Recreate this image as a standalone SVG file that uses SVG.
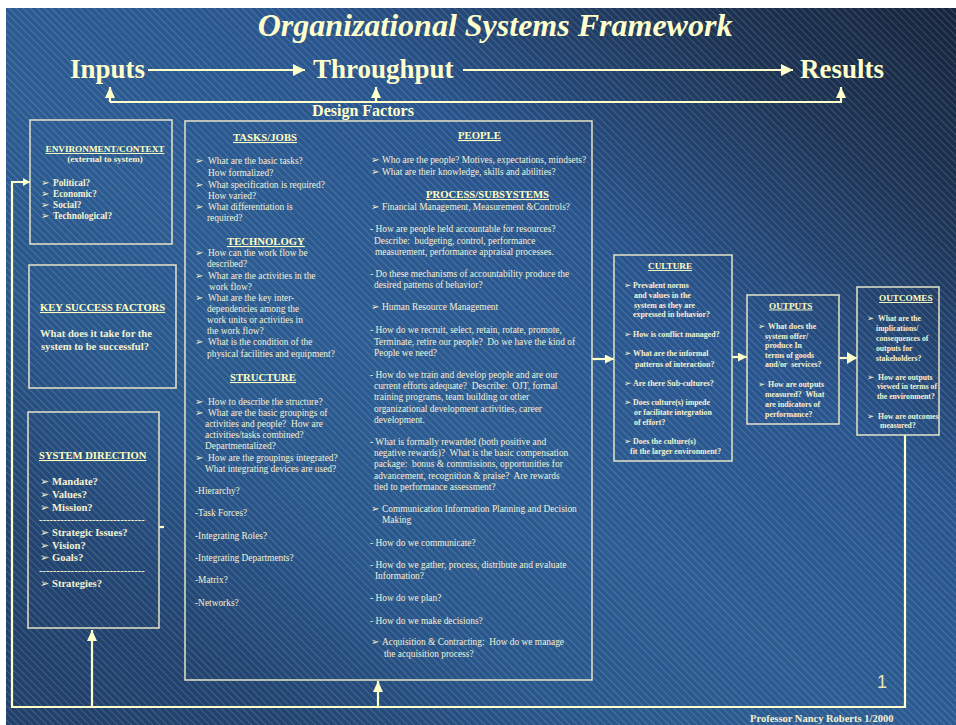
<svg xmlns="http://www.w3.org/2000/svg" width="956" height="725" viewBox="0 0 956 725">
<defs>
<linearGradient id="bg" x1="1" y1="0" x2="0" y2="1">
<stop offset="0" stop-color="#16253d"/>
<stop offset="0.15" stop-color="#1d3455"/>
<stop offset="0.35" stop-color="#29558e"/>
<stop offset="0.55" stop-color="#2c5c92"/>
<stop offset="0.7" stop-color="#29578c"/>
<stop offset="0.85" stop-color="#224470"/>
<stop offset="1" stop-color="#21406a"/>
</linearGradient>
<pattern id="hatch" width="5" height="5" patternUnits="userSpaceOnUse" patternTransform="rotate(-45)">
<line x1="0.5" y1="0" x2="0.5" y2="5" stroke="#ffffff" stroke-opacity="0.2" stroke-width="0.8"/>
</pattern>
<marker id="big" viewBox="0 0 12 12" refX="12" refY="6" markerWidth="12" markerHeight="12" markerUnits="userSpaceOnUse" orient="auto"><path d="M0,0 L12,6 L0,12 z" fill="#ffffcc"/></marker>
<marker id="mid" viewBox="0 0 11 10" refX="11" refY="5" markerWidth="11" markerHeight="10" markerUnits="userSpaceOnUse" orient="auto"><path d="M0,0 L11,5 L0,10 z" fill="#ffffcc"/></marker>
<marker id="wide" viewBox="0 0 10 12" refX="10" refY="6" markerWidth="10" markerHeight="12" markerUnits="userSpaceOnUse" orient="auto"><path d="M0,0 L10,6 L0,12 z" fill="#ffffcc"/></marker>
<marker id="sm" viewBox="0 0 9 9" refX="9" refY="4.5" markerWidth="9" markerHeight="9" markerUnits="userSpaceOnUse" orient="auto"><path d="M0,0 L9,4.5 L0,9 z" fill="#ffffcc"/></marker>
<marker id="xs" viewBox="0 0 7 8" refX="7" refY="4" markerWidth="7" markerHeight="8" markerUnits="userSpaceOnUse" orient="auto"><path d="M0,0 L7,4 L0,8 z" fill="#ffffcc"/></marker>
</defs>
<style>
text{font-family:"Liberation Serif","Times New Roman",serif;}
.title{font-size:32px;font-weight:bold;font-style:italic;fill:#ffffcc;}
.big{font-size:27px;font-weight:bold;fill:#ffffcc;}
.df{font-size:16px;font-weight:bold;fill:#ffffcc;}
.hd{font-weight:bold;fill:#ffffc0;text-decoration:underline;}
.h10{font-size:10.7px;}
.h9{font-size:9.2px;}
.lb{font-weight:bold;fill:#f4f2d2;}
.s10{font-size:10.6px;}
.s9{font-size:9.3px;}
.s8{font-size:7.9px;}
.s7{font-size:7.7px;}
.t{font-size:9.4px;fill:#f2f0d6;}
.p{white-space:pre;}
.bl{font-family:"DejaVu Sans",sans-serif;font-weight:bold;}
.b1{font-size:10px;}
.b2{font-size:11px;}
.b3{font-size:8.5px;}
.box{fill:none;stroke:#e4e4c8;stroke-width:1.5;}
.cn{fill:none;stroke:#ffffcc;stroke-width:2.2;}
.ft{font-size:10.5px;font-weight:bold;fill:#f4f2d2;}
.pg{font-family:"Liberation Sans",Arial,sans-serif;font-size:18px;fill:#e8e4b8;}
</style>
<rect x="0" y="0" width="956" height="725" fill="#ffffff"/>
<rect x="6" y="8" width="950" height="717" fill="url(#bg)"/>
<rect x="6" y="8" width="950" height="717" fill="url(#hatch)"/>

<g id="header">
<text class="title" x="495" y="36" text-anchor="middle">Organizational Systems Framework</text>
<text class="big" x="70" y="78">Inputs</text>
<text class="big" x="313" y="78">Throughput</text>
<text class="big" x="800" y="78">Results</text>
<text class="df" x="363" y="116" text-anchor="middle">Design Factors</text>
</g>

<g id="connectors">
<path class="cn" stroke-width="2.5" d="M148,70 H305" marker-end="url(#big)"/>
<path class="cn" stroke-width="2.5" d="M463,70 H793" marker-end="url(#big)"/>
<path class="cn" stroke-width="2.5" d="M110,102 H842"/>
<path class="cn" stroke-width="2.5" d="M110,102 V87" marker-end="url(#mid)"/>
<path class="cn" stroke-width="2.5" d="M376,102 V87" marker-end="url(#mid)"/>
<path class="cn" stroke-width="2.5" d="M841,102 V87" marker-end="url(#mid)"/>
<path class="cn" d="M905,435 V707 H12 V182 H30" marker-end="url(#xs)"/>
<path class="cn" d="M92,707 V630" marker-end="url(#mid)"/>
<path class="cn" d="M378,707 V681" marker-end="url(#mid)"/>
<path class="cn" d="M592,359 H614" marker-end="url(#sm)"/>
<path class="cn" d="M732,357 H747" marker-end="url(#sm)"/>
<path class="cn" d="M839,358 H857" marker-end="url(#wide)"/>
<path class="cn" d="M159,527 H164"/>
</g>

<g id="environment">
<rect class="box" x="30" y="120" width="142" height="124"/>
<text class="hd h9" x="105" y="152" text-anchor="middle">ENVIRONMENT/CONTEXT</text>
<text class="lb" font-size="9px" x="105" y="162" text-anchor="middle">(external to system)</text>
<text class="lb s9" y="186"><tspan class="bl b1" x="41">➢</tspan><tspan x="53">Political?</tspan></text>
<text class="lb s9" y="197"><tspan class="bl b1" x="41">➢</tspan><tspan x="53">Economic?</tspan></text>
<text class="lb s9" y="208"><tspan class="bl b1" x="41">➢</tspan><tspan x="53">Social?</tspan></text>
<text class="lb s9" y="219"><tspan class="bl b1" x="41">➢</tspan><tspan x="53">Technological?</tspan></text>
</g>

<g id="key-success">
<rect class="box" x="29" y="265" width="147" height="123"/>
<text class="hd" font-size="10.6px" x="40" y="311">KEY SUCCESS FACTORS</text>
<text class="lb s10" x="40" y="337">What does it take for the</text>
<text class="lb s10" x="41" y="350">system to be successful?</text>
</g>

<g id="system-direction">
<rect class="box" x="28" y="412" width="131" height="216"/>
<text class="hd" font-size="10.6px" x="39" y="459">SYSTEM DIRECTION</text>
<text class="lb s10" y="485"><tspan class="bl b2" x="40">➢</tspan><tspan x="52">Mandate?</tspan></text>
<text class="lb s10" y="498"><tspan class="bl b2" x="40">➢</tspan><tspan x="52">Values?</tspan></text>
<text class="lb s10" y="510.5"><tspan class="bl b2" x="40">➢</tspan><tspan x="52">Mission?</tspan></text>
<text class="lb s10" x="39" y="523">------------------------------</text>
<text class="lb s10" y="536"><tspan class="bl b2" x="40">➢</tspan><tspan x="52">Strategic Issues?</tspan></text>
<text class="lb s10" y="548.5"><tspan class="bl b2" x="40">➢</tspan><tspan x="52">Vision?</tspan></text>
<text class="lb s10" y="561"><tspan class="bl b2" x="40">➢</tspan><tspan x="52">Goals?</tspan></text>
<text class="lb s10" x="39" y="574">------------------------------</text>
<text class="lb s10" y="587"><tspan class="bl b2" x="40">➢</tspan><tspan x="52">Strategies?</tspan></text>
</g>

<g id="design-factors">
<rect class="box" stroke-width="1.2" x="185" y="121" width="407" height="559"/>
<text class="hd h10" x="233" y="141">TASKS/JOBS</text>
<text class="t" y="164"><tspan class="bl b1" x="195">➢</tspan><tspan x="208">What are the basic tasks?</tspan></text>
<text class="t" x="208" y="176">How formalized?</text>
<text class="t" y="188"><tspan class="bl b1" x="195">➢</tspan><tspan x="208">What specification is required?</tspan></text>
<text class="t" x="208" y="199">How varied?</text>
<text class="t" y="210"><tspan class="bl b1" x="195">➢</tspan><tspan x="208">What differentiation is</tspan></text>
<text class="t" x="207" y="221">required?</text>
<text class="hd h10" x="227" y="245">TECHNOLOGY</text>
<text class="t" y="256"><tspan class="bl b1" x="195">➢</tspan><tspan x="208">How can the work flow be</tspan></text>
<text class="t" x="207" y="267">described?</text>
<text class="t" y="279"><tspan class="bl b1" x="195">➢</tspan><tspan x="208">What are the activities in the</tspan></text>
<text class="t" x="209" y="290">work flow?</text>
<text class="t" y="301"><tspan class="bl b1" x="195">➢</tspan><tspan x="208">What are the key inter-</tspan></text>
<text class="t" x="207" y="312">dependencies among the</text>
<text class="t" x="207" y="323">work units or activities in</text>
<text class="t" x="207" y="334">the work flow?</text>
<text class="t" y="345"><tspan class="bl b1" x="195">➢</tspan><tspan x="208">What is the condition of the</tspan></text>
<text class="t" x="207" y="357">physical facilities and equipment?</text>
<text class="hd h10" x="230" y="381">STRUCTURE</text>
<text class="t" y="405"><tspan class="bl b1" x="195">➢</tspan><tspan x="208">How to describe the structure?</tspan></text>
<text class="t" y="416"><tspan class="bl b1" x="195">➢</tspan><tspan x="208">What are the basic groupings of</tspan></text>
<text class="t p" x="205" y="427">activities and people?  How are</text>
<text class="t" x="205" y="438">activities/tasks combined?</text>
<text class="t" x="205" y="449">Departmentalized?</text>
<text class="t" y="461"><tspan class="bl b1" x="195">➢</tspan><tspan x="208">How are the groupings integrated?</tspan></text>
<text class="t" x="205" y="472">What integrating devices are used?</text>
<text class="t" x="195" y="494">-Hierarchy?</text>
<text class="t" x="195" y="516">-Task Forces?</text>
<text class="t" x="195" y="539">-Integrating Roles?</text>
<text class="t" x="195" y="561">-Integrating Departments?</text>
<text class="t" x="195" y="583">-Matrix?</text>
<text class="t" x="195" y="606">-Networks?</text>

<text class="hd h10" x="458" y="139">PEOPLE</text>
<text class="t" y="163"><tspan class="bl b1" x="371">➢</tspan><tspan x="382">Who are the people? Motives, expectations, mindsets?</tspan></text>
<text class="t" y="174.5"><tspan class="bl b1" x="371">➢</tspan><tspan x="382">What are their knowledge, skills and abilities?</tspan></text>
<text class="hd h10" x="426" y="198">PROCESS/SUBSYSTEMS</text>
<text class="t" y="209.5"><tspan class="bl b1" x="371">➢</tspan><tspan x="382">Financial Management, Measurement &amp;Controls?</tspan></text>
<text class="t" x="370" y="232">- How are people held accountable for resources?</text>
<text class="t p" x="374" y="243.5">Describe:  budgeting, control, performance</text>
<text class="t" x="375" y="255">measurement, performance appraisal processes.</text>
<text class="t" x="370" y="277">- Do these mechanisms of accountability produce the</text>
<text class="t" x="374" y="288">desired patterns of behavior?</text>
<text class="t" y="310"><tspan class="bl b1" x="371">➢</tspan><tspan x="382">Human Resource Management</tspan></text>
<text class="t" x="370" y="333">- How do we recruit, select, retain, rotate, promote,</text>
<text class="t p" x="374" y="344.5">Terminate, retire our people?  Do we have the kind of</text>
<text class="t" x="374" y="355.5">People we need?</text>
<text class="t" x="370" y="378">- How do we train and develop people and are our</text>
<text class="t p" x="374" y="389">current efforts adequate?  Describe:  OJT, formal</text>
<text class="t" x="374" y="400">training programs, team building or other</text>
<text class="t" x="374" y="411.5">organizational development activities, career</text>
<text class="t" x="374" y="423">development.</text>
<text class="t" x="370" y="444.5">- What is formally rewarded (both positive and</text>
<text class="t p" x="374" y="456">negative rewards)?  What is the basic compensation</text>
<text class="t p" x="374" y="467">package:  bonus &amp; commissions, opportunities for</text>
<text class="t p" x="374" y="478.5">advancement, recognition &amp; praise?  Are rewards</text>
<text class="t" x="374" y="490">tied to performance assessment?</text>
<text class="t" y="511.5"><tspan class="bl b1" x="371">➢</tspan><tspan x="382">Communication Information Planning and Decision</tspan></text>
<text class="t" x="382" y="523">Making</text>
<text class="t" x="370" y="545.5">- How do we communicate?</text>
<text class="t" x="370" y="568">- How do we gather, process, distribute and evaluate</text>
<text class="t" x="375" y="578.5">Information?</text>
<text class="t" x="370" y="601">- How do we plan?</text>
<text class="t" x="370" y="624">- How do we make decisions?</text>
<text class="t p" y="645"><tspan class="bl b1" x="371">➢</tspan><tspan x="382">Acquisition &amp; Contracting:  How do we manage</tspan></text>
<text class="t" x="384" y="657">the acquisition process?</text>
</g>

<g id="culture">
<rect class="box" x="614" y="255" width="118" height="206"/>
<text class="hd h9" x="648" y="269">CULTURE</text>
<text class="lb s8" y="288"><tspan class="bl b3" x="624">➢</tspan><tspan x="633">Prevalent norms</tspan></text>
<text class="lb s8" x="634" y="298">and values in the</text>
<text class="lb s8" x="634" y="308">system as they are</text>
<text class="lb s8" x="633" y="317">expressed in behavior?</text>
<text class="lb s8" y="337"><tspan class="bl b3" x="624">➢</tspan><tspan x="633">How is conflict managed?</tspan></text>
<text class="lb s8" y="356"><tspan class="bl b3" x="624">➢</tspan><tspan x="633">What are the informal</tspan></text>
<text class="lb s8" x="635" y="367">patterns of interaction?</text>
<text class="lb s8" y="386"><tspan class="bl b3" x="624">➢</tspan><tspan x="633">Are there Sub-cultures?</tspan></text>
<text class="lb s8" y="404.5"><tspan class="bl b3" x="624">➢</tspan><tspan x="633">Does culture(s) impede</tspan></text>
<text class="lb s8" x="634" y="414.5">or facilitate integration</text>
<text class="lb s8" x="634" y="424.5">of effort?</text>
<text class="lb s8" y="443.5"><tspan class="bl b3" x="624">➢</tspan><tspan x="633">Does the culture(s)</tspan></text>
<text class="lb s8" x="630" y="453.5">fit the larger environment?</text>
</g>

<g id="outputs">
<rect class="box" x="747" y="295" width="92" height="129"/>
<text class="hd h9" x="769" y="308.5">OUTPUTS</text>
<text class="lb s8" y="329"><tspan class="bl b3" x="758">➢</tspan><tspan x="768">What does the</tspan></text>
<text class="lb s8" x="765" y="338.5">system offer/</text>
<text class="lb s8" x="765" y="348">produce In</text>
<text class="lb s8" x="765" y="358">terms of goods</text>
<text class="lb s8 p" x="765" y="367">and/or  services?</text>
<text class="lb s8" y="387"><tspan class="bl b3" x="758">➢</tspan><tspan x="768">How are outputs</tspan></text>
<text class="lb s8 p" x="765" y="397">measured?  What</text>
<text class="lb s8" x="765" y="407">are indicators of</text>
<text class="lb s8" x="765" y="417">performance?</text>
</g>

<g id="outcomes">
<rect class="box" x="857" y="287" width="82" height="148"/>
<text class="hd h9" x="879" y="301">OUTCOMES</text>
<text class="lb s7" y="321"><tspan class="bl b3" x="867">➢</tspan><tspan x="878">What are the</tspan></text>
<text class="lb s7" x="876" y="331">implications/</text>
<text class="lb s7" x="876" y="340.5">consequences of</text>
<text class="lb s7" x="876" y="350.5">outputs for</text>
<text class="lb s7" x="876" y="360.5">stakeholders?</text>
<text class="lb s7" y="379.5"><tspan class="bl b3" x="867">➢</tspan><tspan x="878">How are outputs</tspan></text>
<text class="lb s7" x="877" y="389">viewed in terms of</text>
<text class="lb s7" x="877" y="398.5">the environment?</text>
<text class="lb s7" y="418.5"><tspan class="bl b3" x="867">➢</tspan><tspan x="878">How are outcomes</tspan></text>
<text class="lb s7" x="880" y="427.5">measured?</text>
</g>

<g id="footer">
<text class="pg" x="877" y="688">1</text>
<text class="ft" x="750" y="722">Professor Nancy Roberts 1/2000</text>
</g>
</svg>
